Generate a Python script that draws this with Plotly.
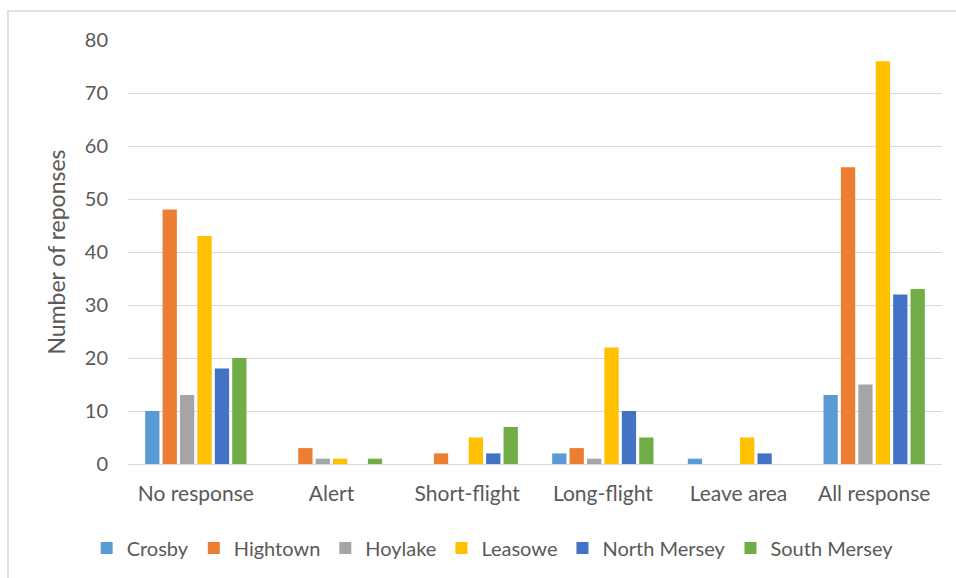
import plotly.graph_objects as go

# Response categories along the x axis
categories = ["No response", "Alert", "Short-flight", "Long-flight", "Leave area", "All response"]

# Number of responses per site
crosby = [10, 0, 0, 2, 1, 13]
hightown = [48, 3, 2, 3, 0, 56]
hoylake = [13, 1, 0, 1, 0, 15]
leasowe = [43, 1, 5, 22, 5, 76]
north_mersey = [18, 0, 2, 10, 2, 32]
south_mersey = [20, 1, 7, 5, 0, 33]

series = [
    ("Crosby", crosby, "#5B9BD5"),
    ("Hightown", hightown, "#ED7D31"),
    ("Hoylake", hoylake, "#A5A5A5"),
    ("Leasowe", leasowe, "#FFC000"),
    ("North Mersey", north_mersey, "#4472C4"),
    ("South Mersey", south_mersey, "#70AD47"),
]

FONT = "Lato, Carlito, Calibri, sans-serif"
GREY = "#595959"

fig = go.Figure()
for name, vals, color in series:
    fig.add_trace(go.Bar(
        name=name, x=categories, y=vals,
        marker=dict(color=color, line=dict(width=0)),
    ))

W, H = 956, 578
ml, mr, mt, mb = 128, 14, 40, 113

fig.update_layout(
    width=W, height=H,
    margin=dict(l=ml, r=mr, t=mt, b=mb),
    paper_bgcolor="white", plot_bgcolor="white",
    barmode="group", bargap=0.23, bargroupgap=0.18,
    font=dict(family=FONT, color=GREY, size=20),
    showlegend=True,
    legend=dict(
        orientation="h", x=0.448, xanchor="center",
        y=(465 - 548) / 425, yanchor="middle",
        font=dict(size=20, color=GREY), itemwidth=30,
        traceorder="normal",
    ),
    xaxis=dict(
        showline=True, linecolor="#D9D9D9", linewidth=1,
        showgrid=False, ticks="", tickfont=dict(size=21, color=GREY),
        ticklabelstandoff=11,
    ),
    yaxis=dict(
        range=[0, 80], dtick=10, showgrid=True, gridcolor="#D9D9D9",
        gridwidth=1, zeroline=False, showline=False, ticks="",
        tickfont=dict(size=20, color=GREY), ticklabelstandoff=19,
        title=dict(text="Number of reponses", font=dict(size=23, color=GREY), standoff=12),
    ),
    shapes=[dict(
        type="rect", xref="paper", yref="paper",
        x0=(8 - ml) / (W - ml - mr), x1=(W + 10 - ml) / (W - ml - mr),
        y0=(465 - (H + 10)) / 425, y1=(465 - 11) / 425,
        line=dict(color="#D9D9D9", width=1.5), fillcolor="rgba(0,0,0,0)",
        layer="below",
    )],
)

fig.write_html("out.html")
